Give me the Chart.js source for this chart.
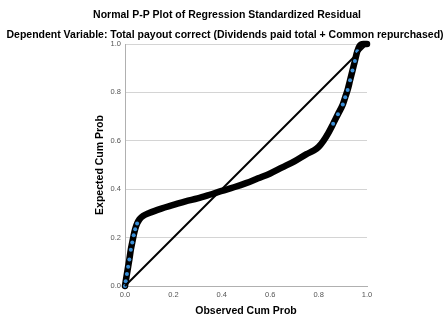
<!DOCTYPE html>
<html>
<head>
<meta charset="utf-8">
<script src="https://cdn.jsdelivr.net/npm/chart.js@4/dist/chart.umd.min.js"></script>
<style>
  html, body { margin: 0; padding: 0; background: #fff; }
</style>
</head>
<body>
<canvas id="chart" width="446" height="320"></canvas>
<script>
const mainTitle = 'Normal P-P Plot of Regression Standardized Residual';
const subTitle = 'Dependent Variable: Total payout correct (Dividends paid total + Common repurchased)';
const xTitle = 'Observed Cum Prob';
const yTitle = 'Expected Cum Prob';

// residual curve
const observedProb = [0, 0.003, 0.008, 0.013, 0.018, 0.024, 0.03, 0.036, 0.042, 0.05, 0.06, 0.075,
  0.1, 0.15, 0.2, 0.25, 0.3, 0.35, 0.4, 0.45, 0.5, 0.55, 0.6, 0.65, 0.7, 0.75, 0.78,
  0.8, 0.82, 0.84, 0.86, 0.88, 0.9, 0.91, 0.92, 0.93, 0.94, 0.95, 0.96, 0.97, 0.985, 1.0];
const expectedProb = [0, 0.02, 0.05, 0.08, 0.11, 0.15, 0.18, 0.21, 0.235, 0.258, 0.276, 0.29,
  0.302, 0.32, 0.335, 0.35, 0.362, 0.377, 0.393, 0.408, 0.425, 0.445, 0.465, 0.49, 0.515, 0.545, 0.56,
  0.575, 0.6, 0.632, 0.67, 0.71, 0.75, 0.78, 0.81, 0.85, 0.89, 0.93, 0.97, 0.993, 1.0, 1.0];

const diagonalX = [0, 1];
const diagonalY = [0, 1];

const tickValues = [0, 0.2, 0.4, 0.6, 0.8, 1.0];

const curvePoints = observedProb.map((x, i) => ({ x, y: expectedProb[i] }));
const diagonalPoints = diagonalX.map((x, i) => ({ x, y: diagonalY[i] }));

// blue centres only show where the points are sparse (steep parts)
function steep(i) {
  const a = Math.max(0, i - 1), b = Math.min(observedProb.length - 1, i + 1);
  const dx = observedProb[b] - observedProb[a];
  const dy = expectedProb[b] - expectedProb[a];
  return dx > 0 && dy / dx > 1.8;
}

const textPlugin = {
  id: 'textPlugin',
  afterDraw(chart) {
    const { ctx, chartArea } = chart;
    ctx.save();
    ctx.fillStyle = '#000';
    ctx.textAlign = 'center';
    ctx.textBaseline = 'middle';
    ctx.font = 'bold 10.5px "Liberation Sans", Arial, sans-serif';
    ctx.fillText(mainTitle, 227, 15);
    ctx.fillText(subTitle, 225, 35);
    ctx.fillText(xTitle, (chartArea.left + chartArea.right) / 2, 311);
    ctx.translate(100, (chartArea.top + chartArea.bottom) / 2);
    ctx.rotate(-Math.PI / 2);
    ctx.fillText(yTitle, 0, 0);
    ctx.restore();
  }
};

const tickFont = { family: '"Liberation Sans", Arial, sans-serif', size: 7.5 };

new Chart(document.getElementById('chart'), {
  type: 'scatter',
  data: {
    datasets: [
      {
        data: diagonalPoints,
        showLine: true,
        borderColor: '#000',
        borderWidth: 2,
        pointRadius: 0,
        clip: false
      },
      {
        data: curvePoints,
        showLine: true,
        borderColor: '#000',
        borderWidth: 6.5,
        borderCapStyle: 'round',
        borderJoinStyle: 'round',
        cubicInterpolationMode: 'monotone',
        pointRadius: ctx => steep(ctx.dataIndex) ? 2 : 0,
        pointBackgroundColor: '#3a8fd8',
        pointBorderWidth: 0,
        clip: false
      }
    ]
  },
  options: {
    responsive: false,
    animation: false,
    layout: { padding: { left: 85, right: 79, top: 44, bottom: 14 } },
    plugins: {
      legend: { display: false },
      tooltip: { enabled: false }
    },
    scales: {
      x: {
        type: 'linear',
        min: 0,
        max: 1,
        afterFit: s => { s.height = 20; },
        afterBuildTicks: s => { s.ticks = tickValues.map(v => ({ value: v })); },
        ticks: {
          padding: 4,
          color: '#555',
          font: tickFont,
          callback: v => v.toFixed(1)
        },
        grid: { display: false, drawTicks: false },
        border: { display: true, color: '#b0b0b0', width: 1 }
      },
      y: {
        type: 'linear',
        min: 0,
        max: 1,
        afterFit: s => { s.width = 40; },
        afterBuildTicks: s => { s.ticks = tickValues.map(v => ({ value: v })); },
        ticks: {
          padding: 4,
          color: '#555',
          font: tickFont,
          callback: v => v.toFixed(1)
        },
        grid: { color: '#d4d4d4', lineWidth: 1, drawTicks: false },
        border: { display: true, color: '#b0b0b0', width: 1 }
      }
    }
  },
  plugins: [textPlugin]
});
</script>
</body>
</html>
